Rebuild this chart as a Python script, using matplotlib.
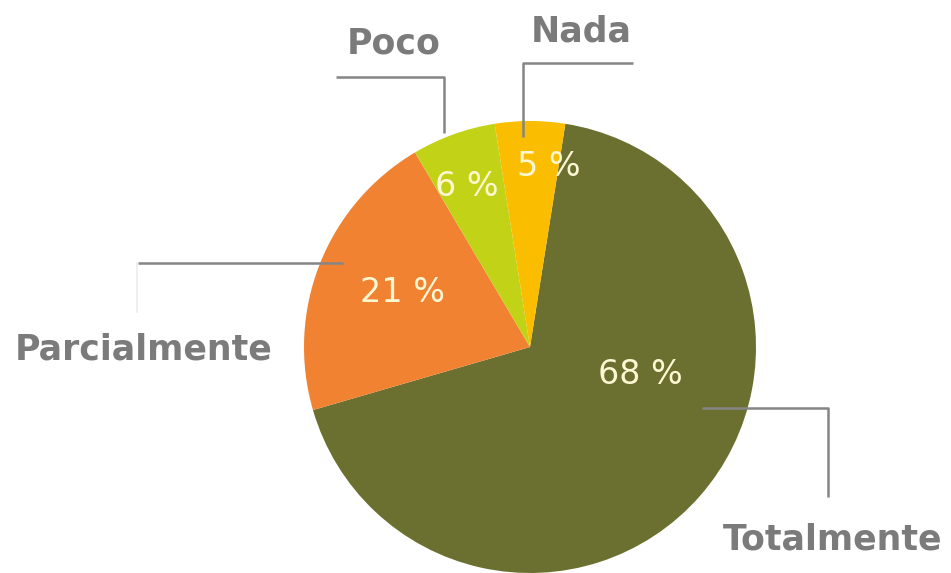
import matplotlib.pyplot as plt

# data
categories = ["Totalmente", "Parcialmente", "Poco", "Nada"]
values = [68, 21, 6, 5]
pct_labels = ["68 %", "21 %", "6 %", "5 %"]
colors = ["#6b7030", "#f08232", "#c2d317", "#fbbd00"]

W, H = 951, 573


def px(x, y):
    # pixel coords (y down) -> data coords (y up)
    return x, H - y


# layout (pixel positions)
center = px(530, 347)
radius = 226
pct_pos = [(640, 375), (403, 293), (467, 186), (549, 167)]
label_pos = [(833, 540), (144, 350), (394, 43), (581, 31)]
leaders = [
    [(702, 408), (828, 408), (828, 497)],
    [(343, 263), (138, 263)],
    [(444, 133), (444, 77), (336, 77)],
    [(523, 137), (523, 63), (633, 63)],
]

fig = plt.figure(figsize=(W / 100, H / 100), dpi=100)
ax = fig.add_axes([0, 0, 1, 1])

ax.pie(
    values,
    colors=colors,
    startangle=81,
    counterclock=False,
    center=center,
    radius=radius,
    wedgeprops=dict(linewidth=0),
    frame=True,
)
ax.set_xlim(0, W)
ax.set_ylim(0, H)
ax.set_aspect("equal")
ax.axis("off")

for pts in leaders:
    xs, ys = zip(*[px(x, y) for x, y in pts])
    ax.plot(xs, ys, color="#858585", lw=1.8, solid_capstyle="butt", zorder=3)

# faint vertical tick under the Parcialmente leader
xs, ys = zip(*[px(137, 263), px(137, 312)])
ax.plot(xs, ys, color="#ececec", lw=1.2, zorder=3)

for txt, (x, y) in zip(pct_labels, pct_pos):
    ax.text(*px(x, y), txt, ha="center", va="center", fontsize=24,
            color="#fdf7d2", family="DejaVu Sans", zorder=4)

for txt, (x, y) in zip(categories, label_pos):
    ax.text(*px(x, y), txt, ha="center", va="center", fontsize=25,
            fontweight="bold", color="#7b7b7b", family="DejaVu Sans", zorder=4)

fig.savefig("out.png", dpi=100, facecolor="white")
